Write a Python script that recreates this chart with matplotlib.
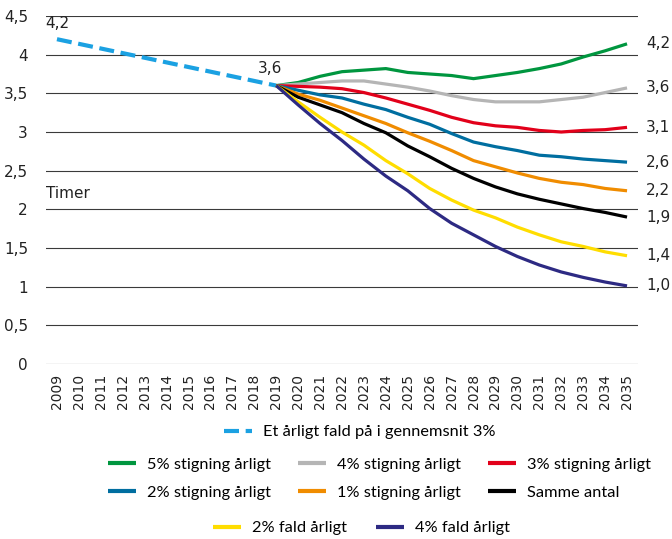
import matplotlib
matplotlib.use('Agg')
import matplotlib.pyplot as plt

# data
hist_years = [2009, 2019]
hist_values = [4.2, 3.6]
years = list(range(2019, 2036))
stig5 = [3.6, 3.64, 3.72, 3.78, 3.80, 3.82, 3.77, 3.75, 3.73, 3.69, 3.73, 3.77, 3.82, 3.88, 3.97, 4.05, 4.14]
stig4 = [3.6, 3.62, 3.64, 3.66, 3.66, 3.62, 3.58, 3.53, 3.47, 3.42, 3.39, 3.39, 3.39, 3.42, 3.45, 3.51, 3.57]
stig3 = [3.6, 3.59, 3.58, 3.56, 3.51, 3.44, 3.36, 3.28, 3.19, 3.12, 3.08, 3.06, 3.02, 3.00, 3.02, 3.03, 3.06]
stig2 = [3.6, 3.54, 3.48, 3.44, 3.36, 3.29, 3.19, 3.10, 2.98, 2.87, 2.81, 2.76, 2.70, 2.68, 2.65, 2.63, 2.61]
stig1 = [3.6, 3.49, 3.41, 3.31, 3.21, 3.11, 2.99, 2.88, 2.76, 2.63, 2.55, 2.47, 2.40, 2.35, 2.32, 2.27, 2.24]
samme = [3.6, 3.45, 3.35, 3.25, 3.11, 2.99, 2.82, 2.68, 2.53, 2.40, 2.29, 2.20, 2.13, 2.07, 2.01, 1.96, 1.90]
fald2 = [3.6, 3.39, 3.19, 3.00, 2.83, 2.63, 2.46, 2.27, 2.12, 1.99, 1.89, 1.77, 1.67, 1.58, 1.52, 1.45, 1.40]
fald4 = [3.6, 3.35, 3.11, 2.89, 2.65, 2.43, 2.24, 2.01, 1.82, 1.67, 1.52, 1.39, 1.28, 1.19, 1.12, 1.06, 1.01]
end_labels = ['4,2', '3,6', '3,1', '2,6', '2,2', '1,9', '1,4', '1,0']
ytick_vals = [0, 0.5, 1, 1.5, 2, 2.5, 3, 3.5, 4, 4.5]
ytick_labels = ['0', '0,5', '1', '1,5', '2', '2,5', '3', '3,5', '4', '4,5']
year_ticks = list(range(2009, 2036))

names = ['5% stigning årligt', '4% stigning årligt', '3% stigning årligt',
         '2% stigning årligt', '1% stigning årligt', 'Samme antal',
         '2% fald årligt', '4% fald årligt']
colors = ['#00963f', '#b5b5b5', '#e2001a', '#006ea0', '#f08c00', '#000000', '#ffdd00', '#2d2a83']
series = [stig5, stig4, stig3, stig2, stig1, samme, fald2, fald4]

plt.rcParams['font.family'] = ['DejaVu Sans']

W, H = 672, 539
fig = plt.figure(figsize=(6.72, 5.39), dpi=100)
ax = fig.add_axes([46 / W, 1 - 364 / H, 592 / W, 348 / H])

for v in ytick_vals:
    ax.axhline(v, color='#3a3a3a', lw=0.8, zorder=1)

dash, = ax.plot(hist_years, hist_values, color='#1ba1e2', lw=3,
                linestyle=(0, (3.6, 1.6)), dash_capstyle='butt', zorder=3)
lines = []
for vals, c in zip(series, colors):
    ln, = ax.plot(years, vals, color=c, lw=2.3, solid_capstyle='butt', zorder=3)
    lines.append(ln)

ax.set_xlim(2008.5, 2035.5)
ax.set_ylim(0, 4.5)
ax.set_xticks(year_ticks)
ax.set_xticklabels([str(y) for y in year_ticks], rotation=90, fontsize=10, color='#222222')
ax.set_yticks(ytick_vals)
ax.set_yticklabels(ytick_labels, fontsize=11, color='#222222')
ax.tick_params(axis='both', length=0)
ax.tick_params(axis='y', pad=13)
ax.tick_params(axis='x', pad=7)
for s in ax.spines.values():
    s.set_visible(False)

ax.annotate('4,2', (hist_years[0], hist_values[0]), xytext=(-12, 8), textcoords='offset pixels',
            fontsize=11, ha='left', va='bottom', color='#222222')
ax.annotate('3,6', (hist_years[1], hist_values[1]), xytext=(-6, 10), textcoords='offset pixels',
            fontsize=11, ha='center', va='bottom', color='#222222')
ax.text(0, 2.21, 'Timer', transform=ax.get_yaxis_transform(), fontsize=11,
        ha='left', va='center', color='#222222')
for vals, lab in zip(series, end_labels):
    ax.text(1.0135, vals[-1], lab, transform=ax.get_yaxis_transform(), fontsize=11,
            ha='left', va='center', color='#222222')

leg_kw = dict(frameon=False, prop={'family': 'Lato', 'size': 11.8},
              handlelength=1.71, handletextpad=0.67, borderpad=0, borderaxespad=0,
              loc='center left')
# matplotlib fills legend columns first, so reorder to read row by row
order = [0, 3, 1, 4, 2, 5]
leg1 = fig.legend([dash], ['Et årligt fald på i gennemsnit 3%'], ncol=1,
                  bbox_to_anchor=(224 / W, 1 - 432 / H), **leg_kw)
leg2 = fig.legend([lines[i] for i in order], [names[i] for i in order], ncol=3,
                  columnspacing=1.65, labelspacing=0.85,
                  bbox_to_anchor=(108 / W, 1 - 478.5 / H), **leg_kw)
leg3 = fig.legend(lines[6:], names[6:], ncol=2, columnspacing=1.77,
                  bbox_to_anchor=(213 / W, 1 - 528 / H), **leg_kw)
for lg in (leg1, leg2, leg3):
    for h in lg.legend_handles:
        h.set_linewidth(3)

fig.savefig('out.png', dpi=100)
